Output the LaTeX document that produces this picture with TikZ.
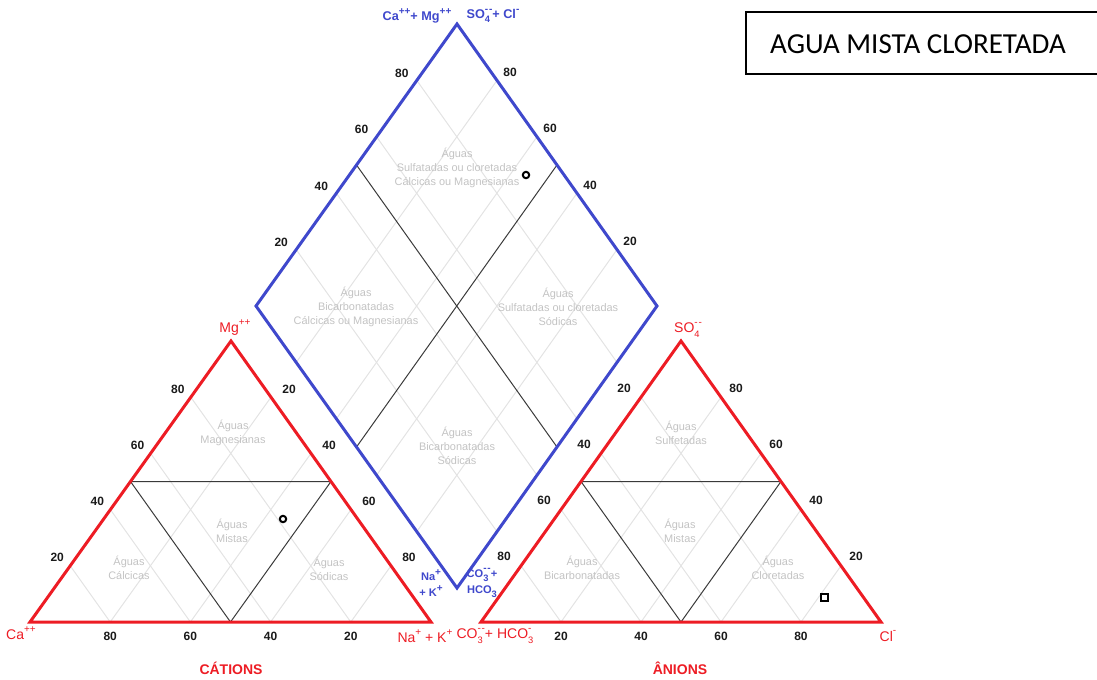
\documentclass[tikz,border=0pt]{standalone}
\usepackage{fontspec}
\setmainfont{Liberation Sans}
\newfontfamily\titlefont{Carlito}
\usetikzlibrary{calc}
\definecolor{redline}{HTML}{ED1C24}
\definecolor{blueline}{HTML}{3F48CC}
\definecolor{zonetext}{HTML}{C3C3C3}
\definecolor{gridgray}{HTML}{E3E3E3}
\definecolor{split}{HTML}{3A3A3A}
\definecolor{numtext}{HTML}{1A1A1A}
\tikzset{
  gridline/.style={draw=gridgray, line width=0.75pt},
  divide/.style={draw=split, line width=0.75pt},
  tri/.style={draw=redline, line width=2.25pt},
  dia/.style={draw=blueline, line width=2.25pt},
  num/.style={text=numtext, inner sep=0pt, font=\fontsize{9}{10}\selectfont\bfseries},
  zone/.style={text=zonetext, align=center, inner sep=0pt, font=\fontsize{8.2}{10.5}\selectfont},
  ionred/.style={text=redline, inner sep=0pt, font=\fontsize{10.5}{12}\selectfont},
  ionblue/.style={text=blueline, inner sep=0pt, align=center, font=\fontsize{9.5}{9.5}\selectfont\bfseries},
  axis/.style={text=redline, inner sep=0pt, font=\fontsize{10.5}{12}\selectfont\bfseries},
  sample/.style={draw=black, line width=1.5pt}
}
% charges and indices of the ions
\newcommand{\chg}[1]{\raisebox{0.95ex}{\fontsize{7.5}{7.5}\selectfont #1}}
\newcommand{\ionsub}[1]{\raisebox{-0.65ex}{\fontsize{7}{7}\selectfont #1}}
\newcommand{\ionboth}[2]{\rlap{\ionsub{#1}}\chg{#2}}

\begin{document}
\begin{tikzpicture}[x=0.75pt, y=-0.75pt]
  \useasboundingbox (0,0) rectangle (1097,679);
  % corners
  \coordinate (Ca) at (30,622);
  \coordinate (Na) at (431,622);
  \coordinate (Mg) at (231,341);
  \coordinate (CO) at (481,622);
  \coordinate (Cl) at (881,622);
  \coordinate (SO) at (681,341);
  \coordinate (dT) at (457,24);
  \coordinate (dL) at (256,306);
  \coordinate (dR) at (657,306);
  \coordinate (dB) at (457,588);

  % 20% grid
  \foreach \t in {0.2,0.4,0.6,0.8}{
    \draw[gridline] ($(Ca)!\t!(Na)$) -- ($(Mg)!\t!(Na)$);
    \draw[gridline] ($(Ca)!\t!(Na)$) -- ($(Ca)!\t!(Mg)$);
    \draw[gridline] ($(CO)!\t!(Cl)$) -- ($(SO)!\t!(Cl)$);
    \draw[gridline] ($(CO)!\t!(Cl)$) -- ($(CO)!\t!(SO)$);
    \draw[gridline] ($(dL)!\t!(dB)$) -- ($(dT)!\t!(dR)$);
    \draw[gridline] ($(dL)!\t!(dT)$) -- ($(dB)!\t!(dR)$);
  }

  % fields
  \draw[divide] ($(Ca)!.5!(Mg)$) -- ($(Na)!.5!(Mg)$) -- ($(Ca)!.5!(Na)$) -- cycle;
  \draw[divide] ($(CO)!.5!(SO)$) -- ($(Cl)!.5!(SO)$) -- ($(CO)!.5!(Cl)$) -- cycle;
  \draw[divide] ($(dL)!.5!(dT)$) -- ($(dB)!.5!(dR)$);
  \draw[divide] ($(dT)!.5!(dR)$) -- ($(dL)!.5!(dB)$);

  % outlines
  \draw[tri] (Ca) -- (Na) -- (Mg) -- cycle;
  \draw[tri] (CO) -- (Cl) -- (SO) -- cycle;
  \draw[dia] (dT) -- (dR) -- (dB) -- (dL) -- cycle;

  % scales
  \foreach \v in {20,40,60,80}{
    \node[num] (lMg\v) at ($(Ca)!\v/100!(Mg)+(-13,-8)$) {\v};
    \node[num] (lNa\v) at ($(Mg)!\v/100!(Na)+(18,-8)$) {\v};
    \node[num] (lCa\v) at ($(Na)!\v/100!(Ca)+(0,14)$) {\v};
    \node[num] (rSO\v) at ($(SO)!\v/100!(CO)+(-17,-9)$) {\v};
    \node[num] (rCl\v) at ($(Cl)!\v/100!(SO)+(15,-9)$) {\v};
    \node[num] (rCO\v) at ($(CO)!\v/100!(Cl)+(0,14)$) {\v};
    \node[num] (dUL\v) at ($(dL)!\v/100!(dT)+(-15,-7)$) {\v};
    \node[num] (dUR\v) at ($(dR)!\v/100!(dT)+(13,-8)$) {\v};
  }

  % water types
  \node[zone] (zMag) at (233,433) {Águas\\Magnesianas};
  \node[zone] (zMixL) at (232,531) {Águas\\Mistas};
  \node[zone] (zCal) at (129,568) {Águas\\Cálcicas};
  \node[zone] (zSod) at (329,569) {Águas\\Sódicas};
  \node[zone] (zSulf) at (681,433) {Águas\\Sulfetadas};
  \node[zone] (zMixR) at (680,531) {Águas\\Mistas};
  \node[zone] (zBic) at (582,568) {Águas\\Bicarbonatadas};
  \node[zone] (zClo) at (778,568) {Águas\\Cloretadas};
  \node[zone] (dTop) at (457,168) {Águas\\Sulfatadas ou cloretadas\\Cálcicas ou Magnesianas};
  \node[zone] (dLeft) at (356,307) {Águas\\Bicarbonatadas\\Cálcicas ou Magnesianas};
  \node[zone] (dRight) at (558,307) {Águas\\Sulfatadas ou cloretadas\\Sódicas};
  \node[zone] (dBot) at (457,446) {Águas\\Bicarbonatadas\\Sódicas};

  % samples
  \draw[sample] (526,175) circle[radius=3.2];
  \draw[sample] (283,519) circle[radius=3.2];
  \draw[sample] (821,594) rectangle (828,601);

  % ions
  \node[ionblue] (bCaMg) at (417,16) {Ca\chg{++}+ Mg\chg{++}};
  \node[ionblue] (bSOCl) at (493,16) {SO\ionboth{4}{-\kern0.6pt-}+ Cl\chg{-}};
  \node[ionblue, font=\fontsize{8.3}{12}\selectfont\bfseries] (bNaK) at (431,583) {Na\chg{+}\\+ K\chg{+}};
  \node[ionblue, font=\fontsize{8.3}{12}\selectfont\bfseries] (bCO) at (482,583) {CO\ionboth{3}{-\kern0.6pt-}+\\HCO\ionsub{3}};
  \node[ionred] (rCa) at (21,633) {Ca\chg{++}};
  \node[ionred] (rMg) at (235,328) {Mg\chg{++}};
  \node[ionred] (rNaK) at (425,636) {Na\chg{+} + K\chg{+}};
  \node[ionred] (rSO) at (688,330) {SO\ionboth{4}{-\kern0.6pt-}};
  \node[ionred] (rCO) at (494,636) {CO\ionboth{3}{-\kern0.6pt-}+ HCO\ionboth{3}{-}};
  \node[ionred] (rCl) at (888,636) {Cl\chg{-}};
  \node[axis] (cations) at (231,668) {CÁTIONS};
  \node[axis] (anions) at (680,668) {ÂNIONS};

  % title
  \draw[line width=1.1pt] (746,12) rectangle (1110,74);
  \node[inner sep=0pt, font=\titlefont\fontsize{21.75}{24}\selectfont] (title) at (918,44) {AGUA MISTA CLORETADA};
\end{tikzpicture}
\end{document}
